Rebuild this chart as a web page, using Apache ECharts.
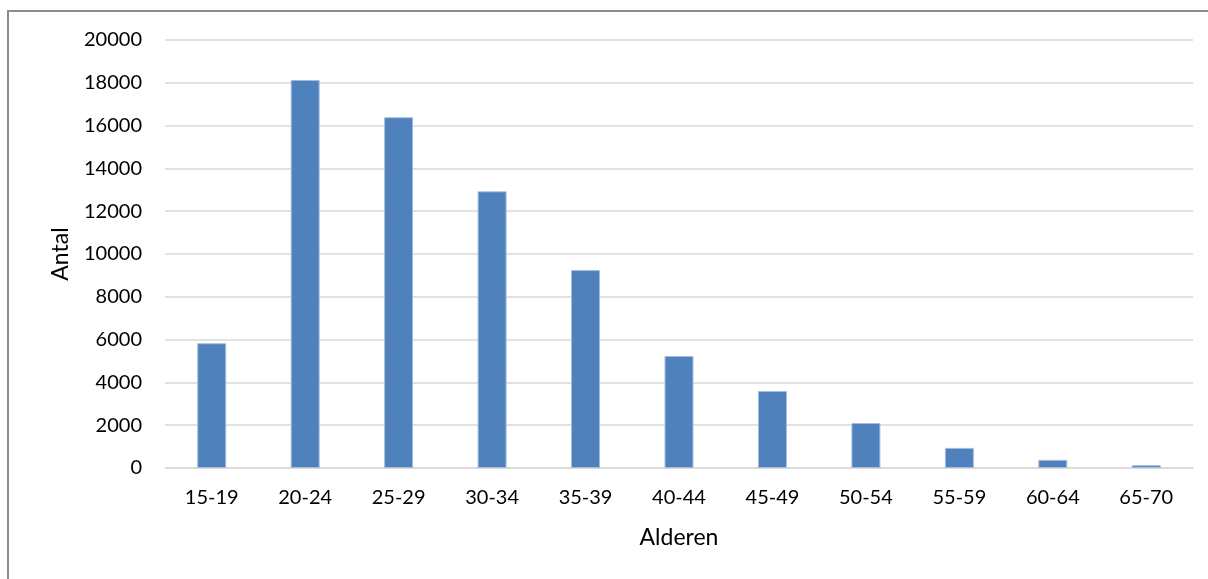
<!DOCTYPE html>
<html>
<head>
<meta charset="utf-8">
<script src="https://cdn.jsdelivr.net/npm/echarts@6/dist/echarts.min.js"></script>
<style>
html,body{margin:0;padding:0;background:#fff;}
#c{width:1208px;height:579px;}
</style>
</head>
<body>
<div id="c"></div>
<script>
const categories = ['15-19','20-24','25-29','30-34','35-39','40-44','45-49','50-54','55-59','60-64','65-70'];
const values = [5830, 18130, 16390, 12930, 9250, 5230, 3600, 2100, 940, 380, 130];
const yTicks = {min: 0, max: 20000, interval: 2000};
const xTitle = 'Alderen';
const yTitle = 'Antal';

const chart = echarts.init(document.getElementById('c'), null, {renderer: 'canvas'});
const font = 'Lato, "Open Sans", sans-serif';
chart.setOption({
  animation: false,
  backgroundColor: '#fff',
  graphic: [{
    type: 'rect',
    shape: {x: 8, y: 11, width: 1220, height: 600},
    style: {fill: 'none', stroke: '#8c8c8c', lineWidth: 2},
    silent: true
  }],
  grid: {left: 165, right: 15, top: 40, bottom: 111, containLabel: false},
  xAxis: {
    type: 'category',
    data: categories,
    name: xTitle,
    nameLocation: 'middle',
    nameGap: 58,
    nameTextStyle: {fontFamily: font, fontSize: 23, color: '#000'},
    axisLine: {show: true, lineStyle: {color: '#d9d9d9', width: 1.5}},
    axisTick: {show: false},
    axisLabel: {fontFamily: font, fontSize: 20, color: '#000', margin: 20, interval: 0}
  },
  yAxis: {
    type: 'value',
    min: yTicks.min, max: yTicks.max, interval: yTicks.interval,
    name: yTitle,
    nameLocation: 'middle',
    nameGap: 93,
    nameRotate: 90,
    nameTextStyle: {fontFamily: font, fontSize: 23, color: '#000'},
    axisLine: {show: false},
    axisTick: {show: false},
    axisLabel: {fontFamily: font, fontSize: 20, color: '#000', margin: 23, formatter: v => String(v)},
    splitLine: {lineStyle: {color: '#d9d9d9', width: 1.5}}
  },
  series: [{
    type: 'bar',
    data: values,
    barWidth: '31%',
    itemStyle: {color: '#4f81bd', borderColor: '#a3bcdd', borderWidth: 1}
  }]
});
</script>
</body>
</html>
